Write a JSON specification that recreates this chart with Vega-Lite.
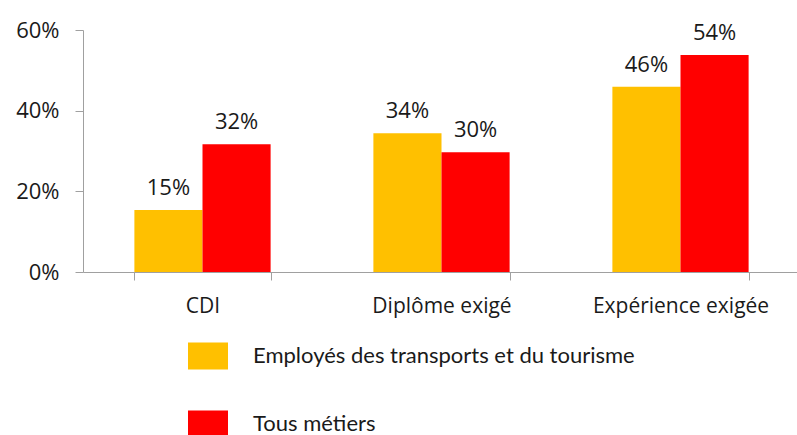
{
  "$schema": "https://vega.github.io/schema/vega-lite/v6.json",
  "width": 717,
  "height": 242,
  "autosize": {"type": "none"},
  "padding": {"left": 83, "top": 30, "right": 0, "bottom": 163},
  "background": "white",
  "config": {"view": {"stroke": null}, "font": "Open Sans"},
  "data": {
    "values": [
      {"critere": "CDI", "serie": "Employés des transports et du tourisme", "valeur": 0.154},
      {"critere": "CDI", "serie": "Tous métiers", "valeur": 0.317},
      {"critere": "Diplôme exigé", "serie": "Employés des transports et du tourisme", "valeur": 0.344},
      {"critere": "Diplôme exigé", "serie": "Tous métiers", "valeur": 0.297},
      {"critere": "Expérience exigée", "serie": "Employés des transports et du tourisme", "valeur": 0.459},
      {"critere": "Expérience exigée", "serie": "Tous métiers", "valeur": 0.538}
    ]
  },
  "encoding": {
    "x": {
      "field": "critere",
      "type": "nominal",
      "sort": ["CDI", "Diplôme exigé", "Expérience exigée"],
      "scale": {"paddingInner": 0.43, "paddingOuter": 0.215},
      "axis": {
        "title": null,
        "labelAngle": 0,
        "tickBand": "extent",
        "tickSize": 8,
        "labelPadding": 15,
        "labelFontSize": 21,
        "labelColor": "#1a1a1a",
        "domainColor": "#a0a0a0",
        "tickColor": "#a0a0a0"
      }
    },
    "xOffset": {"field": "serie", "type": "nominal", "sort": ["Employés des transports et du tourisme", "Tous métiers"]},
    "y": {
      "field": "valeur",
      "type": "quantitative",
      "scale": {"domain": [0, 0.6]},
      "axis": {
        "title": null,
        "values": [0, 0.2, 0.4, 0.6],
        "format": ".0%",
        "grid": false,
        "tickSize": 8,
        "labelPadding": 16,
        "labelFontSize": 22,
        "labelColor": "#1a1a1a",
        "domainColor": "#a0a0a0",
        "tickColor": "#a0a0a0"
      }
    }
  },
  "layer": [
    {
      "mark": {"type": "bar"},
      "encoding": {
        "color": {
          "field": "serie",
          "type": "nominal",
          "sort": ["Employés des transports et du tourisme", "Tous métiers"],
          "scale": {"domain": ["Employés des transports et du tourisme", "Tous métiers"], "range": ["#FFC000", "#FF0000"]},
          "legend": {
            "title": null,
            "orient": "none",
            "legendX": 105,
            "legendY": 306,
            "direction": "vertical",
            "symbolType": "M-1,-0.68H1V0.68H-1Z",
            "symbolSize": 1600,
            "symbolStrokeWidth": 0,
            "labelFont": "Lato",
            "labelFontSize": 22,
            "labelColor": "#1a1a1a",
            "labelOffset": 25,
            "rowPadding": 34,
            "labelLimit": 600
          }
        }
      }
    },
    {
      "mark": {"type": "text", "baseline": "bottom", "dy": -10, "fontSize": 22, "color": "#1a1a1a"},
      "encoding": {"text": {"field": "valeur", "type": "quantitative", "format": ".0%"}}
    }
  ]
}
